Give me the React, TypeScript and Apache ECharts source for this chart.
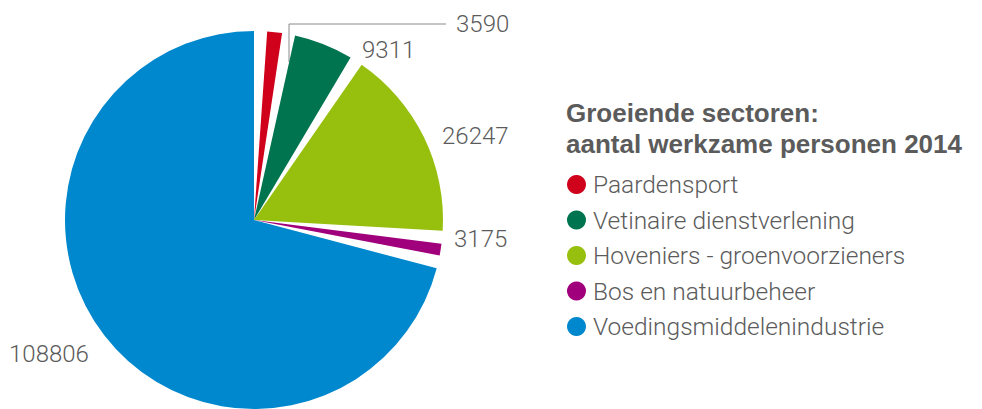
import React, { useEffect, useRef } from "react";
import * as echarts from "echarts";

const categories = [
  "Paardensport",
  "Vetinaire dienstverlening",
  "Hoveniers - groenvoorzieners",
  "Bos en natuurbeheer",
  "Voedingsmiddelenindustrie",
];
const values = [3590, 9311, 26247, 3175, 108806];
const colors = ["#D0011B", "#00744F", "#97BF0D", "#A0007B", "#0088CE"];
const titleLines = ["Groeiende sectoren:", "aantal werkzame personen 2014"];

// label layout (positions only)
const labelPos: [number, number][] = [
  [456, 24],
  [362, 50],
  [442, 136],
  [454, 239],
  [9, 354],
];

const TEXT = "#5b5b5b";
const FONT = "Roboto, 'Liberation Sans', sans-serif";

export default function App() {
  const ref = useRef<HTMLDivElement>(null);
  useEffect(() => {
    document.body.style.margin = "0";
    if (!ref.current) return;
    const chart = echarts.init(ref.current, undefined, { renderer: "svg" });
    chart.setOption({
      animation: false,
      color: colors,
      title: {
        text: titleLines.join("\n"),
        left: 561,
        top: 92,
        textStyle: {
          fontFamily: "'Liberation Sans', Arial, sans-serif",
          fontWeight: "bold",
          fontSize: 26,
          lineHeight: 31,
          color: TEXT,
        },
      },
      legend: {
        orient: "vertical",
        left: 562,
        top: 167,
        icon: "circle",
        itemWidth: 19,
        itemHeight: 19,
        itemGap: 10.5,
        selectedMode: false,
        textStyle: {
          fontFamily: FONT,
          fontWeight: 300,
          fontSize: 24.5,
          lineHeight: 24,
          color: TEXT,
          padding: [0, 0, 0, 2],
        },
        data: categories,
      },
      series: [
        {
          type: "pie",
          center: [254, 220],
          radius: 189,
          startAngle: 88,
          clockwise: true,
          padAngle: 4,
          avoidLabelOverlap: false,
          label: {
            show: true,
            formatter: "{c}",
            fontFamily: FONT,
            fontWeight: 300,
            fontSize: 24,
            color: TEXT,
          },
          labelLine: {
            show: false,
            lineStyle: { color: "#8a8a8a", width: 1 },
          },
          labelLayout: (params: any) => {
            const i = params.dataIndex;
            const [x, y] = labelPos[i];
            const out: any = { x, y, align: "left", verticalAlign: "middle" };
            if (i === 0) {
              out.labelLinePoints = [
                [289, 62],
                [289, 24],
                [446, 24],
              ];
            }
            return out;
          },
          data: categories.map((name, i) => ({
            name,
            value: values[i],
            labelLine: { show: i === 0 },
          })),
        },
      ],
    });
    return () => chart.dispose();
  }, []);
  return <div ref={ref} style={{ width: 982, height: 409 }} />;
}
